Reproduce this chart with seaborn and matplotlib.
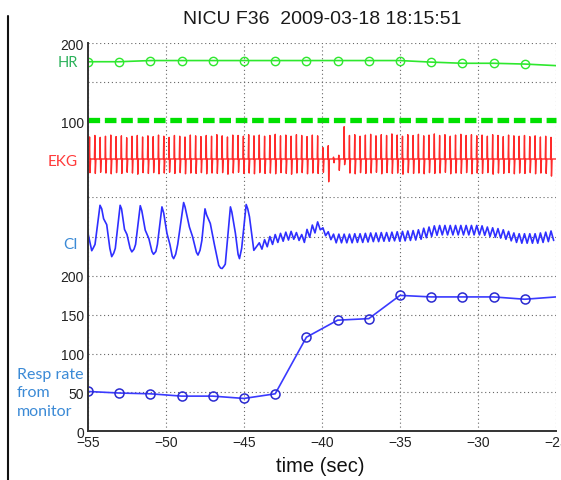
import numpy as np
import matplotlib.pyplot as plt
from matplotlib.lines import Line2D
import seaborn as sns

# trend samples, one every 2 s (last point has no marker)
trend_t = [-55, -53, -51, -49, -47, -45, -43, -41, -39, -37, -35, -33, -31, -29, -27, -25]
hr = [176, 176, 177.5, 177.5, 177.5, 177.5, 177.5, 177.5, 177.5, 177.5, 177.5, 175.5, 174, 174, 173, 171]
resp = [51, 49, 48, 45, 45, 42, 48, 121, 143, 145, 175, 173, 173, 173, 170, 173]
hr_alarm_t = [-55, -25]
hr_alarm = [101, 101]

# EKG: beats every 0.34 s, R peak and S trough per beat
beat0 = -54.9
beat_dt = 0.34
ekg_r = [0.58, 0.62, 0.57, 0.60, 0.63, 0.59, 0.61, 0.56, 0.60, 0.62, 0.58,
         0.61, 0.59, 0.63, 0.60, 0.57, 0.62, 0.60, 0.58, 0.63, 0.61, 0.59,
         0.62, 0.60, 0.64, 0.61, 0.58, 0.63, 0.62, 0.60, 0.64, 0.61, 0.63,
         0.60, 0.62, 0.65, 0.61, 0.63, 0.60, 0.64, 0.62, 0.59, 0.63, 0.61,
         0.30, 0.35, 0.05, 0.10, 0.85,
         0.62, 0.64, 0.60, 0.63, 0.65, 0.61, 0.64, 0.62, 0.66, 0.63, 0.60,
         0.64, 0.62, 0.65, 0.61, 0.63, 0.66, 0.62, 0.64, 0.60, 0.63, 0.65,
         0.62, 0.64, 0.61, 0.63, 0.60, 0.64, 0.62, 0.59, 0.63, 0.61, 0.60,
         0.62, 0.59, 0.61, 0.58, 0.60, 0.57]
ekg_s = [-0.36, -0.38, -0.35, -0.37, -0.39, -0.36, -0.38, -0.35, -0.37, -0.40, -0.36,
         -0.38, -0.36, -0.39, -0.37, -0.35, -0.38, -0.36, -0.39, -0.37, -0.38, -0.36,
         -0.39, -0.37, -0.38, -0.36, -0.40, -0.37, -0.35, -0.38, -0.37, -0.39, -0.36,
         -0.38, -0.37, -0.39, -0.36, -0.38, -0.40, -0.37, -0.36, -0.39, -0.37, -0.38,
         -0.35, -0.60, -0.10, -0.30, -0.15,
         -0.37, -0.39, -0.36, -0.38, -0.37, -0.35, -0.39, -0.36, -0.38, -0.37, -0.40,
         -0.36, -0.38, -0.37, -0.39, -0.36, -0.38, -0.37, -0.35, -0.39, -0.37, -0.38,
         -0.36, -0.39, -0.37, -0.38, -0.36, -0.40, -0.37, -0.38, -0.36, -0.39, -0.37,
         -0.38, -0.36, -0.39, -0.37, -0.38, -0.45]

# chest impedance: breathing part, then cardiac ripple peaks/troughs
ci_big_t = [-55.0, -54.85, -54.76, -54.65, -54.55, -54.23, -54.12, -54.0, -53.8, -53.6,
            -53.48, -53.35, -53.25, -52.94, -52.85, -52.66, -52.5, -52.3, -52.19, -52.05,
            -51.95, -51.65, -51.55, -51.33, -51.1, -50.9, -50.8, -50.65, -50.55, -50.26,
            -50.15, -49.94, -49.75, -49.6, -49.51, -49.38, -49.25, -48.87, -48.78, -48.5,
            -48.3, -48.05, -47.95, -47.82, -47.7, -47.5, -47.4, -47.16, -46.9, -46.62,
            -46.5, -46.4, -46.28, -46.2, -45.87, -45.78, -45.55, -45.38, -45.29, -45.15,
            -44.86, -44.76, -44.65, -44.37]
ci_big_v = [0.08, -0.2, -0.36, -0.28, -0.2, 0.79, 0.7, 0.45, 0.3, -0.3,
            -0.51, -0.42, -0.3, 0.79, 0.7, 0.18, 0.05, -0.3, -0.39, -0.32,
            -0.2, 0.78, 0.65, 0.16, -0.05, -0.38, -0.45, -0.38, -0.2, 0.75,
            0.6, 0.08, -0.2, -0.5, -0.56, -0.45, -0.2, 0.86, 0.75, 0.24,
            0.0, -0.4, -0.47, -0.35, -0.1, 0.70, 0.55, 0.33, -0.2, -0.73,
            -0.8, -0.81, -0.75, -0.7, 0.75, 0.62, 0.08, -0.45, -0.56, -0.3,
            0.81, 0.7, 0.5, -0.35]
ci_first_beat = 32
ci_hi = [-0.16, -0.08, 0.00, 0.05, 0.08, 0.11, 0.13, 0.10, 0.05, 0.18,
         0.29, 0.37, 0.22, 0.12, 0.06, 0.06, 0.06, 0.06, 0.07, 0.07,
         0.08, 0.09, 0.09, 0.10, 0.10, 0.11, 0.12, 0.13, 0.14, 0.15,
         0.17, 0.21, 0.24, 0.27, 0.28, 0.28, 0.28, 0.28, 0.28, 0.28,
         0.28, 0.28, 0.27, 0.24, 0.22, 0.20, 0.17, 0.13, 0.09, 0.07,
         0.07, 0.07, 0.07, 0.09, 0.11, 0.14]
ci_lo = [-0.32, -0.26, -0.20, -0.15, -0.12, -0.09, -0.07, -0.10, -0.15, -0.02,
         0.09, 0.17, 0.02, -0.08, -0.16, -0.16, -0.16, -0.16, -0.15, -0.15,
         -0.14, -0.13, -0.13, -0.12, -0.12, -0.11, -0.12, -0.11, -0.10, -0.09,
         -0.07, -0.03, 0.00, 0.03, 0.04, 0.04, 0.04, 0.04, 0.04, 0.04,
         0.04, 0.04, 0.03, 0.00, -0.02, -0.04, -0.07, -0.11, -0.15, -0.17,
         -0.17, -0.17, -0.17, -0.15, -0.13, -0.10]

xticks = [-55, -50, -45, -40, -35, -30, -25]
hr_ticks = [100, 150, 200]
hr_ticklabels = ['100', '', '200']
resp_ticks = [0, 50, 100, 150, 200]

sns.set_style('white')
plt.rcParams['font.family'] = ['Liberation Sans', 'DejaVu Sans']

W, H = 561, 481
fig = plt.figure(figsize=(W / 100, H / 100), dpi=100)


def px_axes(top, bottom, left=88, right=556):
    return fig.add_axes([left / W, 1 - bottom / H, (right - left) / W, (bottom - top) / H])


ax_hr = px_axes(44, 122)
ax_ekg = px_axes(122, 198)
ax_ci = px_axes(198, 277)
ax_rr = px_axes(277, 432)

grid_kw = dict(color='#666666', linestyle=(0, (1, 2.5)), linewidth=0.8)

for ax in [ax_hr, ax_ekg, ax_ci, ax_rr]:
    ax.set_xlim(-55, -25)
    ax.set_xticks(xticks)
    ax.grid(True, **grid_kw)
    for side in ['top', 'right', 'bottom']:
        ax.spines[side].set_visible(False)
    ax.spines['left'].set_color('#333333')
    ax.spines['left'].set_linewidth(1.4)
    ax.tick_params(direction='in', length=4, color='#333333', labelsize=10, labelcolor='#222222', pad=3)
    ax.tick_params(axis='x', length=0, labelbottom=False)
    ax.set_facecolor('none')

# HR
sns.lineplot(x=trend_t, y=hr, ax=ax_hr, sort=False, estimator=None, color='#2ee82e', lw=1.2,
             marker='o', markersize=6, markerfacecolor='none', markeredgecolor='#2ee82e',
             markeredgewidth=1.0, markevery=list(range(len(hr) - 1)))
sns.lineplot(x=hr_alarm_t, y=hr_alarm, ax=ax_hr, sort=False, estimator=None, color='#00e000',
             lw=3.8, linestyle=(0, (2.2, 0.9)), clip_on=False)
ax_hr.set_ylim(100, 200)
ax_hr.set_yticks(hr_ticks)
ax_hr.set_yticklabels(hr_ticklabels)

# EKG
beat_t = beat0 + beat_dt * np.arange(len(ekg_r))
ekg_x, ekg_y = [-55.0], [0.0]
for t, r, s in zip(beat_t, ekg_r, ekg_s):
    ekg_x += [t - 0.03, t, t + 0.03, t + 0.07]
    ekg_y += [0.0, r, s, 0.0]
ekg_x.append(-25.0)
ekg_y.append(0.0)
sns.lineplot(x=ekg_x, y=ekg_y, ax=ax_ekg, sort=False, estimator=None, color='#ff2a2a', lw=1.0)
ax_ekg.set_ylim(-1, 1)
ax_ekg.set_yticks([])

# CI
ci_x, ci_y = list(ci_big_t), list(ci_big_v)
for t, hi, lo in zip(beat_t[ci_first_beat:], ci_hi, ci_lo):
    ci_x += [t, t + beat_dt / 2]
    ci_y += [hi, lo]
sns.lineplot(x=ci_x, y=ci_y, ax=ax_ci, sort=False, estimator=None, color='#2f2fff', lw=1.2)
ax_ci.set_ylim(-1, 1)
ax_ci.set_yticks([-1, 0, 1])
ax_ci.set_yticklabels([])

# respiration rate
sns.lineplot(x=trend_t, y=resp, ax=ax_rr, sort=False, estimator=None, color='#3a3aff', lw=1.2,
             marker='o', markersize=6.5, markerfacecolor='none', markeredgecolor='#2a2ad0',
             markeredgewidth=1.1, markevery=list(range(len(resp) - 1)))
ax_rr.set_ylim(0, 200)
ax_rr.set_yticks(resp_ticks)
ax_rr.spines['bottom'].set_visible(True)
ax_rr.spines['bottom'].set_color('#333333')
ax_rr.spines['bottom'].set_linewidth(1.4)
ax_rr.tick_params(axis='x', length=4, labelbottom=True, labelsize=10)
ax_rr.set_xlabel('')
ax_rr.set_ylabel('')

fig.text(322 / W, 1 - 20 / H, 'NICU F36  2009-03-18 18:15:51', ha='center', va='center',
         fontsize=14, color='#1a1a1a')
fig.text(320 / W, 1 - 467 / H, 'time (sec)', ha='center', va='center', fontsize=14.5, color='#111111')

side_font = ['Lato', 'DejaVu Sans']
fig.text(78 / W, 1 - 63 / H, 'HR', ha='right', va='center', fontsize=10.5, color='#2bb15a', family=side_font)
fig.text(78 / W, 1 - 162 / H, 'EKG', ha='right', va='center', fontsize=11, color='#ff3b3b', family=side_font)
fig.text(78 / W, 1 - 245 / H, 'CI', ha='right', va='center', fontsize=11, color='#3b8ad6', family=side_font)
fig.text(17 / W, 1 - 368 / H, 'Resp rate\nfrom\nmonitor', ha='left', va='top', fontsize=11.5,
         color='#3b8ad6', family=side_font, linespacing=1.4)

# frame edge at the left of the slide crop
fig.add_artist(Line2D([8 / W, 8 / W], [0, 1 - 17 / H], color='#111111', lw=1.5))

fig.savefig('out.png', dpi=100)
